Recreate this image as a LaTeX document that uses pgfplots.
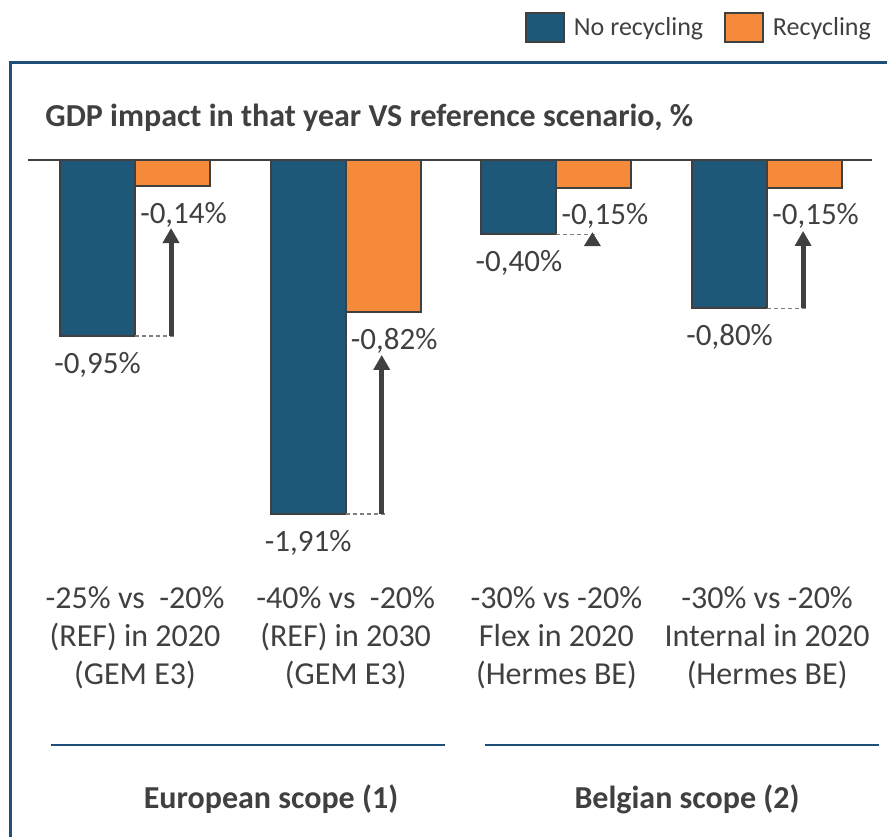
\documentclass[border=0pt]{standalone}
\usepackage{pgfplots}
\pgfplotsset{compat=1.18}
\usepackage{fontspec}
\setmainfont{Carlito}
\usetikzlibrary{arrows.meta}
\definecolor{barblue}{HTML}{1F5779}
\definecolor{barorange}{HTML}{F58A3A}
\definecolor{outl}{HTML}{404040}
\definecolor{txt}{HTML}{404040}
\definecolor{frameblue}{HTML}{1F4E79}
\definecolor{dashgray}{HTML}{808080}
\begin{document}
\begin{tikzpicture}
\path[use as bounding box] (0,0) rectangle (443.5pt,-418pt);
\begin{axis}[
  at={(14pt,-80pt)}, anchor=north west,
  scale only axis, width=422pt, height=203.85pt,
  xmin=-0.508, xmax=3.498, ymin=-2.2, ymax=0,
  clip=false,
  axis line style={draw=none},
  major tick length=0pt,
  ytick=\empty,
  xtick={0,1,2,3},
  xticklabels={{-25\% vs \ -20\%\\(REF) in 2020\\(GEM E3)},
               {-40\% vs \ -20\%\\(REF) in 2030\\(GEM E3)},
               {-30\% vs -20\%\\Flex in 2020\\(Hermes BE)},
               {-30\% vs -20\%\\Internal in 2020\\(Hermes BE)}},
  xticklabel style={align=center, font=\fontsize{16}{19}\selectfont, text=txt, yshift=-6pt},
  ybar=0pt, bar width=37.5pt,
  /pgf/number format/.cd, fixed, zerofill, precision=2, use comma, assume math mode=true,
  /pgfplots/.cd,
  nodes near coords={\pgfmathprintnumber{\pgfplotspointmeta}\%},
  every node near coord/.append style={font=\fontsize{15.5}{18}\selectfont, text=txt, inner sep=0pt, yshift=-7.5pt},
  legend columns=2,
  legend style={at={(0.5885,1.325)}, anchor=west, draw=none, fill=none, inner sep=0pt,
    font=\fontsize{13}{15}\selectfont, text=txt,
    /tikz/every even column/.append style={column sep=8.5pt}},
  legend image code/.code={\draw[#1,line width=0.8pt] (0pt,-7.25pt) rectangle (19pt,7.25pt); \path (21.5pt,0pt);},
]
\addplot[fill=barblue, draw=outl, line width=1pt] coordinates {(0,-0.95) (1,-1.91) (2,-0.40) (3,-0.80)};
\addlegendentry{No recycling}
\addplot[fill=barorange, draw=outl, line width=1pt,
  every node near coord/.append style={xshift=5.5pt}] coordinates {(0,-0.14) (1,-0.82) (2,-0.15) (3,-0.15)};
\addlegendentry{Recycling}
% zero line
\draw[outl, line width=1pt] (axis cs:-0.508,0) -- (axis cs:3.498,0);
% dashed guide lines
\foreach \g/\v in {0/-0.95, 1/-1.91, 2/-0.40, 3/-0.80}{
  \edef\tmp{\noexpand\draw[dashgray, line width=0.6pt, dash pattern=on 2pt off 1.5pt] (axis cs:\g,\v) -- ([xshift=20pt]axis cs:\g,\v);}\tmp
}
% arrows
\draw[outl, line width=2.5pt, -{Triangle[width=8pt,length=7.5pt]}] ([xshift=18pt]axis cs:0,-0.95) -- ([xshift=18pt]axis cs:0,-0.367);
\draw[outl, line width=2.5pt, -{Triangle[width=8pt,length=7.5pt]}] ([xshift=18pt]axis cs:1,-1.91) -- ([xshift=18pt]axis cs:1,-1.052);
\draw[outl, line width=2.5pt, -{Triangle[width=8pt,length=7pt]}] ([xshift=18pt]axis cs:2,-0.465) -- ([xshift=18pt]axis cs:2,-0.389);
\draw[outl, line width=2.5pt, -{Triangle[width=8pt,length=7.5pt]}] ([xshift=18pt]axis cs:3,-0.80) -- ([xshift=18pt]axis cs:3,-0.383);
\end{axis}
\begin{scope}[x=0.5pt,y=-0.5pt]
\draw[frameblue, line width=1.5pt] (10,850) -- (10,62) -- (900,62);
\node[anchor=base west, inner sep=0pt, font=\bfseries\fontsize{16}{19}\selectfont, text=txt] at (45,126) {GDP impact in that year VS reference scenario, \%};
\draw[frameblue, line width=1.2pt] (51,745) -- (445,745);
\draw[frameblue, line width=1.2pt] (485,745) -- (879,745);
\node[anchor=base, inner sep=0pt, font=\bfseries\fontsize{16}{19}\selectfont, text=txt] at (271,808) {European scope (1)};
\node[anchor=base, inner sep=0pt, font=\bfseries\fontsize{16}{19}\selectfont, text=txt] at (687,808) {Belgian scope (2)};
\end{scope}
\end{tikzpicture}
\end{document}
